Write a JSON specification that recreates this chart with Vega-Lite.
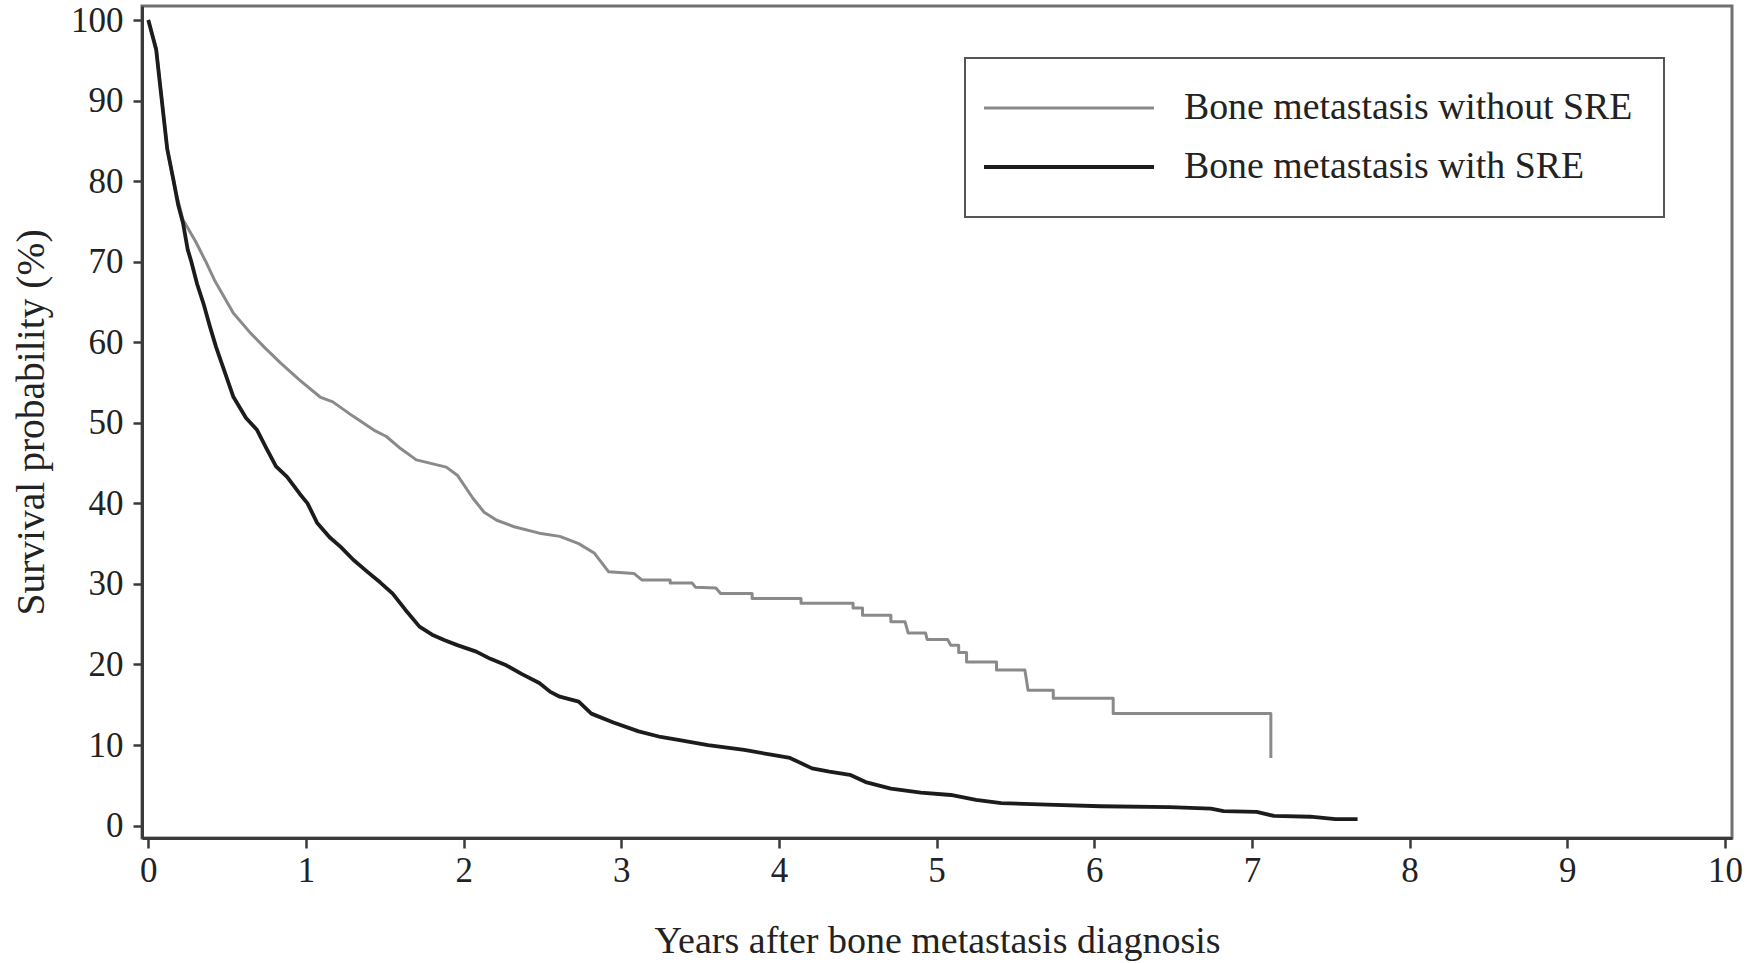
{
  "$schema": "https://vega.github.io/schema/vega-lite/v6.json",
  "width": 1590,
  "height": 832,
  "autosize": {"type": "none"},
  "padding": {"left": 142, "top": 6, "right": 15, "bottom": 125},
  "background": "white",
  "config": {
    "view": {"stroke": "#707070", "strokeWidth": 3},
    "font": "Liberation Serif",
    "axis": {
      "grid": false,
      "domainColor": "#3a3a3a",
      "domainWidth": 3,
      "tickColor": "#3a3a3a",
      "tickWidth": 2.5,
      "labelFont": "Liberation Serif",
      "labelColor": "#222222",
      "labelFontSize": 35,
      "titleFont": "Liberation Serif",
      "titleFontWeight": "normal",
      "titleColor": "#222222",
      "titleFontSize": 38
    }
  },
  "data": {
    "values": [
      {"group": "Bone metastasis without SRE", "i": 0, "years": 0, "survival": 100},
      {"group": "Bone metastasis without SRE", "i": 1, "years": 0.05, "survival": 96.5},
      {"group": "Bone metastasis without SRE", "i": 2, "years": 0.12, "survival": 84},
      {"group": "Bone metastasis without SRE", "i": 3, "years": 0.17, "survival": 79},
      {"group": "Bone metastasis without SRE", "i": 4, "years": 0.22, "survival": 75.2},
      {"group": "Bone metastasis without SRE", "i": 5, "years": 0.30, "survival": 72.5},
      {"group": "Bone metastasis without SRE", "i": 6, "years": 0.37, "survival": 69.8},
      {"group": "Bone metastasis without SRE", "i": 7, "years": 0.42, "survival": 67.7},
      {"group": "Bone metastasis without SRE", "i": 8, "years": 0.54, "survival": 63.6},
      {"group": "Bone metastasis without SRE", "i": 9, "years": 0.65, "survival": 61.1},
      {"group": "Bone metastasis without SRE", "i": 10, "years": 0.74, "survival": 59.3},
      {"group": "Bone metastasis without SRE", "i": 11, "years": 0.84, "survival": 57.4},
      {"group": "Bone metastasis without SRE", "i": 12, "years": 0.96, "survival": 55.3},
      {"group": "Bone metastasis without SRE", "i": 13, "years": 1.09, "survival": 53.2},
      {"group": "Bone metastasis without SRE", "i": 14, "years": 1.17, "survival": 52.6},
      {"group": "Bone metastasis without SRE", "i": 15, "years": 1.30, "survival": 50.8},
      {"group": "Bone metastasis without SRE", "i": 16, "years": 1.43, "survival": 49.1},
      {"group": "Bone metastasis without SRE", "i": 17, "years": 1.51, "survival": 48.3},
      {"group": "Bone metastasis without SRE", "i": 18, "years": 1.60, "survival": 46.8},
      {"group": "Bone metastasis without SRE", "i": 19, "years": 1.70, "survival": 45.4},
      {"group": "Bone metastasis without SRE", "i": 20, "years": 1.89, "survival": 44.5},
      {"group": "Bone metastasis without SRE", "i": 21, "years": 1.96, "survival": 43.5},
      {"group": "Bone metastasis without SRE", "i": 22, "years": 2.06, "survival": 40.6},
      {"group": "Bone metastasis without SRE", "i": 23, "years": 2.13, "survival": 38.9},
      {"group": "Bone metastasis without SRE", "i": 24, "years": 2.21, "survival": 37.9},
      {"group": "Bone metastasis without SRE", "i": 25, "years": 2.32, "survival": 37.1},
      {"group": "Bone metastasis without SRE", "i": 26, "years": 2.48, "survival": 36.3},
      {"group": "Bone metastasis without SRE", "i": 27, "years": 2.61, "survival": 35.9},
      {"group": "Bone metastasis without SRE", "i": 28, "years": 2.73, "survival": 35.0},
      {"group": "Bone metastasis without SRE", "i": 29, "years": 2.83, "survival": 33.8},
      {"group": "Bone metastasis without SRE", "i": 30, "years": 2.92, "survival": 31.5},
      {"group": "Bone metastasis without SRE", "i": 31, "years": 3.08, "survival": 31.3},
      {"group": "Bone metastasis without SRE", "i": 32, "years": 3.13, "survival": 30.5},
      {"group": "Bone metastasis without SRE", "i": 33, "years": 3.31, "survival": 30.5},
      {"group": "Bone metastasis without SRE", "i": 34, "years": 3.31, "survival": 30.1},
      {"group": "Bone metastasis without SRE", "i": 35, "years": 3.45, "survival": 30.1},
      {"group": "Bone metastasis without SRE", "i": 36, "years": 3.47, "survival": 29.6},
      {"group": "Bone metastasis without SRE", "i": 37, "years": 3.60, "survival": 29.5},
      {"group": "Bone metastasis without SRE", "i": 38, "years": 3.63, "survival": 28.8},
      {"group": "Bone metastasis without SRE", "i": 39, "years": 3.83, "survival": 28.8},
      {"group": "Bone metastasis without SRE", "i": 40, "years": 3.83, "survival": 28.2},
      {"group": "Bone metastasis without SRE", "i": 41, "years": 4.14, "survival": 28.2},
      {"group": "Bone metastasis without SRE", "i": 42, "years": 4.14, "survival": 27.6},
      {"group": "Bone metastasis without SRE", "i": 43, "years": 4.47, "survival": 27.6},
      {"group": "Bone metastasis without SRE", "i": 44, "years": 4.47, "survival": 27.0},
      {"group": "Bone metastasis without SRE", "i": 45, "years": 4.53, "survival": 27.0},
      {"group": "Bone metastasis without SRE", "i": 46, "years": 4.53, "survival": 26.1},
      {"group": "Bone metastasis without SRE", "i": 47, "years": 4.71, "survival": 26.1},
      {"group": "Bone metastasis without SRE", "i": 48, "years": 4.71, "survival": 25.3},
      {"group": "Bone metastasis without SRE", "i": 49, "years": 4.80, "survival": 25.3},
      {"group": "Bone metastasis without SRE", "i": 50, "years": 4.82, "survival": 23.9},
      {"group": "Bone metastasis without SRE", "i": 51, "years": 4.93, "survival": 23.9},
      {"group": "Bone metastasis without SRE", "i": 52, "years": 4.94, "survival": 23.1},
      {"group": "Bone metastasis without SRE", "i": 53, "years": 5.07, "survival": 23.1},
      {"group": "Bone metastasis without SRE", "i": 54, "years": 5.09, "survival": 22.4},
      {"group": "Bone metastasis without SRE", "i": 55, "years": 5.14, "survival": 22.4},
      {"group": "Bone metastasis without SRE", "i": 56, "years": 5.14, "survival": 21.5},
      {"group": "Bone metastasis without SRE", "i": 57, "years": 5.19, "survival": 21.5},
      {"group": "Bone metastasis without SRE", "i": 58, "years": 5.19, "survival": 20.3},
      {"group": "Bone metastasis without SRE", "i": 59, "years": 5.38, "survival": 20.3},
      {"group": "Bone metastasis without SRE", "i": 60, "years": 5.38, "survival": 19.3},
      {"group": "Bone metastasis without SRE", "i": 61, "years": 5.56, "survival": 19.3},
      {"group": "Bone metastasis without SRE", "i": 62, "years": 5.58, "survival": 16.8},
      {"group": "Bone metastasis without SRE", "i": 63, "years": 5.74, "survival": 16.8},
      {"group": "Bone metastasis without SRE", "i": 64, "years": 5.74, "survival": 15.8},
      {"group": "Bone metastasis without SRE", "i": 65, "years": 6.12, "survival": 15.8},
      {"group": "Bone metastasis without SRE", "i": 66, "years": 6.12, "survival": 13.9},
      {"group": "Bone metastasis without SRE", "i": 67, "years": 7.12, "survival": 13.9},
      {"group": "Bone metastasis without SRE", "i": 68, "years": 7.12, "survival": 8.4},
      {"group": "Bone metastasis with SRE", "i": 0, "years": 0, "survival": 100},
      {"group": "Bone metastasis with SRE", "i": 1, "years": 0.05, "survival": 96.3},
      {"group": "Bone metastasis with SRE", "i": 2, "years": 0.08, "survival": 91},
      {"group": "Bone metastasis with SRE", "i": 3, "years": 0.12, "survival": 84},
      {"group": "Bone metastasis with SRE", "i": 4, "years": 0.16, "survival": 80.1},
      {"group": "Bone metastasis with SRE", "i": 5, "years": 0.19, "survival": 77},
      {"group": "Bone metastasis with SRE", "i": 6, "years": 0.22, "survival": 74.8},
      {"group": "Bone metastasis with SRE", "i": 7, "years": 0.25, "survival": 71.5},
      {"group": "Bone metastasis with SRE", "i": 8, "years": 0.27, "survival": 70.2},
      {"group": "Bone metastasis with SRE", "i": 9, "years": 0.31, "survival": 67.2},
      {"group": "Bone metastasis with SRE", "i": 10, "years": 0.35, "survival": 64.8},
      {"group": "Bone metastasis with SRE", "i": 11, "years": 0.39, "survival": 62.0},
      {"group": "Bone metastasis with SRE", "i": 12, "years": 0.43, "survival": 59.4},
      {"group": "Bone metastasis with SRE", "i": 13, "years": 0.49, "survival": 56.0},
      {"group": "Bone metastasis with SRE", "i": 14, "years": 0.54, "survival": 53.2},
      {"group": "Bone metastasis with SRE", "i": 15, "years": 0.62, "survival": 50.6},
      {"group": "Bone metastasis with SRE", "i": 16, "years": 0.69, "survival": 49.1},
      {"group": "Bone metastasis with SRE", "i": 17, "years": 0.75, "survival": 46.8},
      {"group": "Bone metastasis with SRE", "i": 18, "years": 0.81, "survival": 44.6},
      {"group": "Bone metastasis with SRE", "i": 19, "years": 0.88, "survival": 43.3},
      {"group": "Bone metastasis with SRE", "i": 20, "years": 0.96, "survival": 41.2},
      {"group": "Bone metastasis with SRE", "i": 21, "years": 1.01, "survival": 40.0},
      {"group": "Bone metastasis with SRE", "i": 22, "years": 1.07, "survival": 37.6},
      {"group": "Bone metastasis with SRE", "i": 23, "years": 1.15, "survival": 35.8},
      {"group": "Bone metastasis with SRE", "i": 24, "years": 1.22, "survival": 34.6},
      {"group": "Bone metastasis with SRE", "i": 25, "years": 1.30, "survival": 33},
      {"group": "Bone metastasis with SRE", "i": 26, "years": 1.39, "survival": 31.5},
      {"group": "Bone metastasis with SRE", "i": 27, "years": 1.47, "survival": 30.2},
      {"group": "Bone metastasis with SRE", "i": 28, "years": 1.55, "survival": 28.8},
      {"group": "Bone metastasis with SRE", "i": 29, "years": 1.63, "survival": 26.8},
      {"group": "Bone metastasis with SRE", "i": 30, "years": 1.72, "survival": 24.7},
      {"group": "Bone metastasis with SRE", "i": 31, "years": 1.80, "survival": 23.7},
      {"group": "Bone metastasis with SRE", "i": 32, "years": 1.88, "survival": 23.0},
      {"group": "Bone metastasis with SRE", "i": 33, "years": 1.96, "survival": 22.4},
      {"group": "Bone metastasis with SRE", "i": 34, "years": 2.08, "survival": 21.6},
      {"group": "Bone metastasis with SRE", "i": 35, "years": 2.17, "survival": 20.7},
      {"group": "Bone metastasis with SRE", "i": 36, "years": 2.27, "survival": 19.9},
      {"group": "Bone metastasis with SRE", "i": 37, "years": 2.37, "survival": 18.8},
      {"group": "Bone metastasis with SRE", "i": 38, "years": 2.48, "survival": 17.7},
      {"group": "Bone metastasis with SRE", "i": 39, "years": 2.55, "survival": 16.6},
      {"group": "Bone metastasis with SRE", "i": 40, "years": 2.61, "survival": 16.0},
      {"group": "Bone metastasis with SRE", "i": 41, "years": 2.73, "survival": 15.4},
      {"group": "Bone metastasis with SRE", "i": 42, "years": 2.81, "survival": 13.9},
      {"group": "Bone metastasis with SRE", "i": 43, "years": 2.95, "survival": 12.8},
      {"group": "Bone metastasis with SRE", "i": 44, "years": 3.11, "survival": 11.7},
      {"group": "Bone metastasis with SRE", "i": 45, "years": 3.25, "survival": 11.0},
      {"group": "Bone metastasis with SRE", "i": 46, "years": 3.37, "survival": 10.6},
      {"group": "Bone metastasis with SRE", "i": 47, "years": 3.55, "survival": 10.0},
      {"group": "Bone metastasis with SRE", "i": 48, "years": 3.78, "survival": 9.4},
      {"group": "Bone metastasis with SRE", "i": 49, "years": 3.95, "survival": 8.8},
      {"group": "Bone metastasis with SRE", "i": 50, "years": 4.07, "survival": 8.4},
      {"group": "Bone metastasis with SRE", "i": 51, "years": 4.21, "survival": 7.1},
      {"group": "Bone metastasis with SRE", "i": 52, "years": 4.32, "survival": 6.7},
      {"group": "Bone metastasis with SRE", "i": 53, "years": 4.45, "survival": 6.3},
      {"group": "Bone metastasis with SRE", "i": 54, "years": 4.55, "survival": 5.4},
      {"group": "Bone metastasis with SRE", "i": 55, "years": 4.71, "survival": 4.6},
      {"group": "Bone metastasis with SRE", "i": 56, "years": 4.90, "survival": 4.1},
      {"group": "Bone metastasis with SRE", "i": 57, "years": 5.09, "survival": 3.8},
      {"group": "Bone metastasis with SRE", "i": 58, "years": 5.25, "survival": 3.2},
      {"group": "Bone metastasis with SRE", "i": 59, "years": 5.41, "survival": 2.8},
      {"group": "Bone metastasis with SRE", "i": 60, "years": 5.70, "survival": 2.6},
      {"group": "Bone metastasis with SRE", "i": 61, "years": 6.04, "survival": 2.4},
      {"group": "Bone metastasis with SRE", "i": 62, "years": 6.48, "survival": 2.3},
      {"group": "Bone metastasis with SRE", "i": 63, "years": 6.74, "survival": 2.1},
      {"group": "Bone metastasis with SRE", "i": 64, "years": 6.82, "survival": 1.8},
      {"group": "Bone metastasis with SRE", "i": 65, "years": 7.03, "survival": 1.7},
      {"group": "Bone metastasis with SRE", "i": 66, "years": 7.14, "survival": 1.2},
      {"group": "Bone metastasis with SRE", "i": 67, "years": 7.37, "survival": 1.1},
      {"group": "Bone metastasis with SRE", "i": 68, "years": 7.53, "survival": 0.8},
      {"group": "Bone metastasis with SRE", "i": 69, "years": 7.67, "survival": 0.8}
    ]
  },
  "mark": {"type": "line", "strokeJoin": "round", "strokeCap": "butt"},
  "encoding": {
    "x": {
      "field": "years",
      "type": "quantitative",
      "scale": {"domain": [-0.04, 10.045], "nice": false, "zero": false},
      "axis": {
        "title": "Years after bone metastasis diagnosis",
        "values": [0, 1, 2, 3, 4, 5, 6, 7, 8, 9, 10],
        "tickSize": 10,
        "labelPadding": 5,
        "titlePadding": 34,
        "labelFlush": false,
        "labelOverlap": false
      }
    },
    "y": {
      "field": "survival",
      "type": "quantitative",
      "scale": {"domain": [-1.54, 101.74], "nice": false, "zero": false},
      "axis": {
        "title": "Survival probability (%)",
        "titleFontSize": 39.5,
        "values": [0, 10, 20, 30, 40, 50, 60, 70, 80, 90, 100],
        "tickSize": 9,
        "labelPadding": 10,
        "titlePadding": 19,
        "labelFlush": false,
        "labelOverlap": false
      }
    },
    "color": {
      "field": "group",
      "type": "nominal",
      "scale": {
        "domain": ["Bone metastasis without SRE", "Bone metastasis with SRE"],
        "range": ["#8a8a8a", "#1c1c1c"]
      },
      "legend": {
        "title": null,
        "orient": "none",
        "legendX": 823,
        "legendY": 52,
        "symbolType": "M-5,0H5",
        "symbolSize": 1156,
        "symbolStrokeWidth": 4,
        "symbolOffset": 54,
        "labelFont": "Liberation Serif",
        "labelFontSize": 37.8,
        "labelColor": "#222222",
        "labelOffset": 96,
        "labelLimit": 0,
        "fillColor": "white",
        "strokeColor": "#555555",
        "padding": 31,
        "rowPadding": 21,
        "encode": {"legend": {"update": {"strokeWidth": {"value": 2}}}}
      }
    },
    "strokeWidth": {
      "field": "group",
      "type": "nominal",
      "scale": {
        "domain": ["Bone metastasis without SRE", "Bone metastasis with SRE"],
        "range": [3, 3.8]
      },
      "legend": null
    },
    "order": {"field": "i", "type": "quantitative"}
  }
}
